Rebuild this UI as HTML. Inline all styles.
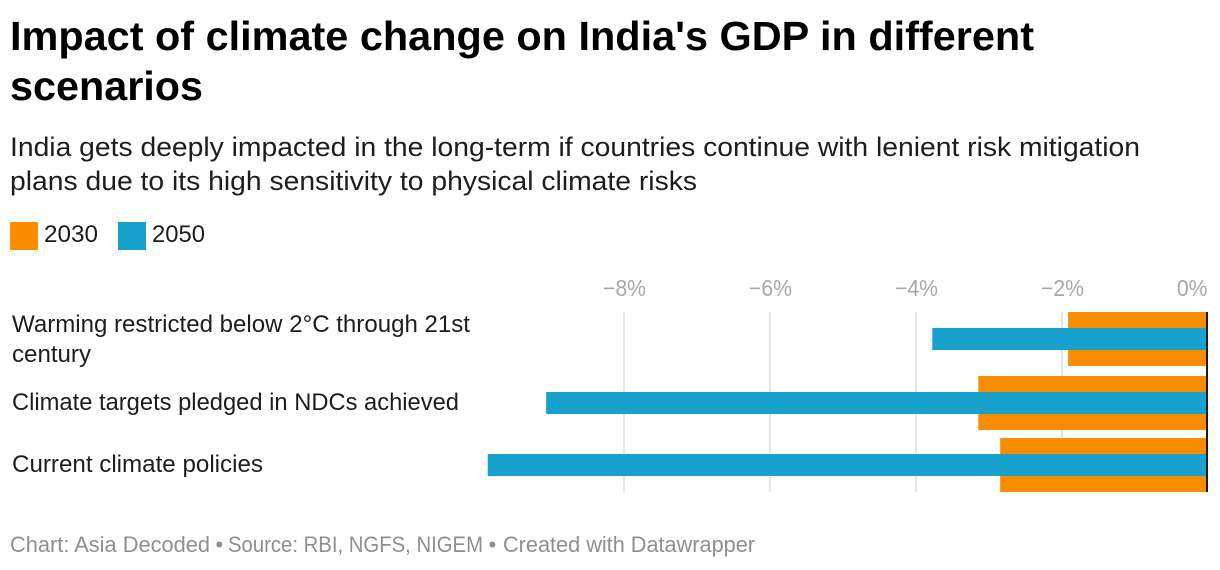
<!DOCTYPE html>
<html lang="en">
<head>
<meta charset="utf-8">
<title>Impact of climate change on India's GDP in different scenarios</title>
<style>
html,body{margin:0;padding:0;background:#fff;width:1220px;height:570px;overflow:hidden}
svg{display:block}
text{font-family:"Liberation Sans",sans-serif}
.title{font-size:41px;font-weight:700;fill:#000}
.sub{font-size:27px;fill:#1d1d1d}
.lg{font-size:24px;fill:#1d1d1d}
.cat{font-size:24px;fill:#1d1d1d}
.tick{font-size:23px;fill:#a8a8a8}
.foot{font-size:22px;fill:#8f8f8f}
</style>
</head>
<body>
<svg id="chart" width="1220" height="570" viewBox="0 0 1220 570" xmlns="http://www.w3.org/2000/svg">
  <text class="title" x="10" y="50" textLength="1024" lengthAdjust="spacingAndGlyphs">Impact of climate change on India's GDP in different</text>
  <text class="title" x="10" y="100" textLength="193" lengthAdjust="spacingAndGlyphs">scenarios</text>
  <text class="sub" x="10" y="156" textLength="1130" lengthAdjust="spacingAndGlyphs">India gets deeply impacted in the long-term if countries continue with lenient risk mitigation</text>
  <text class="sub" x="10" y="190" textLength="687" lengthAdjust="spacingAndGlyphs">plans due to its high sensitivity to physical climate risks</text>

  <rect x="10" y="222" width="28" height="28" fill="#fa8c00"/>
  <text class="lg" x="44" y="242" textLength="54" lengthAdjust="spacingAndGlyphs">2030</text>
  <rect x="118" y="222" width="28" height="28" fill="#18a1cd"/>
  <text class="lg" x="152" y="242" textLength="53" lengthAdjust="spacingAndGlyphs">2050</text>

  <text class="cat" x="12" y="332" textLength="458" lengthAdjust="spacingAndGlyphs">Warming restricted below 2°C through 21st</text>
  <text class="cat" x="12" y="362" textLength="79" lengthAdjust="spacingAndGlyphs">century</text>
  <text class="cat" x="12" y="410" textLength="447" lengthAdjust="spacingAndGlyphs">Climate targets pledged in NDCs achieved</text>
  <text class="cat" x="12" y="472" textLength="251" lengthAdjust="spacingAndGlyphs">Current climate policies</text>

  <g id="grid"></g>
  <g id="ticks"></g>
  <g id="bars"></g>
  <g id="zero"></g>

  <g>
    <text class="foot" x="10" y="552" textLength="200" lengthAdjust="spacingAndGlyphs">Chart: Asia Decoded</text>
    <text class="foot" x="215.5" y="552">•</text>
    <text class="foot" x="228" y="552" textLength="255" lengthAdjust="spacingAndGlyphs">Source: RBI, NGFS, NIGEM</text>
    <text class="foot" x="488.5" y="552">•</text>
    <text class="foot" x="503" y="552" textLength="252" lengthAdjust="spacingAndGlyphs">Created with Datawrapper</text>
  </g>
</svg>
<script>
const categories = ['Warming restricted below 2°C through 21st century', 'Climate targets pledged in NDCs achieved', 'Current climate policies'];
const values2030 = [-1.91, -3.14, -2.84];
const values2050 = [-3.77, -9.06, -9.86];
const tickValues = [-8, -6, -4, -2, 0];
const tickLabels = ['−8%', '−6%', '−4%', '−2%', '0%'];

const NS = 'http://www.w3.org/2000/svg';
const plotTops = [312, 376, 438];
const plotBottom = 492;
function xScale(v) { return 1207.5 + 73 * v; }
function make(tag, parent, attrs) {
  const el = document.createElementNS(NS, tag);
  for (const k in attrs) el.setAttribute(k, attrs[k]);
  parent.appendChild(el);
  return el;
}
const gridG = document.getElementById('grid');
const ticksG = document.getElementById('ticks');
const barsG = document.getElementById('bars');
const zeroG = document.getElementById('zero');

tickValues.forEach(function (v, i) {
  const x = xScale(v);
  if (v !== 0) {
    const line = make('rect', gridG, { x: Math.round(x) - 1, y: plotTops[0], width: 2, height: plotBottom - plotTops[0], fill: '#e6e6e6' });
    
    
  }
  const t = make('text', ticksG, { class: 'tick', x: v === 0 ? x : x + 1, y: 296, 'text-anchor': v === 0 ? 'end' : 'middle', lengthAdjust: 'spacingAndGlyphs' });
  t.textContent = tickLabels[i];
  
  
  t.setAttribute('textLength', (t.getComputedTextLength() * 0.92).toFixed(1));
});

categories.forEach(function (c, i) {
  const top = plotTops[i];
  const x0 = xScale(0);
  const a = xScale(values2030[i]);
  const b = xScale(values2050[i]);
  const r1 = make('rect', barsG, { x: Math.min(a, x0), y: top, width: Math.abs(x0 - a), height: 54, fill: '#fa8c00' });
  
  
  const r2 = make('rect', barsG, { x: Math.min(b, x0), y: top + 16, width: Math.abs(x0 - b), height: 22, fill: '#18a1cd' });
  
  
});

const zeroLine = make('rect', zeroG, { x: Math.floor(xScale(0)) - 1, y: plotTops[0], width: 2, height: plotBottom - plotTops[0], fill: '#1a1a1a' });


</script>
</body>
</html>
